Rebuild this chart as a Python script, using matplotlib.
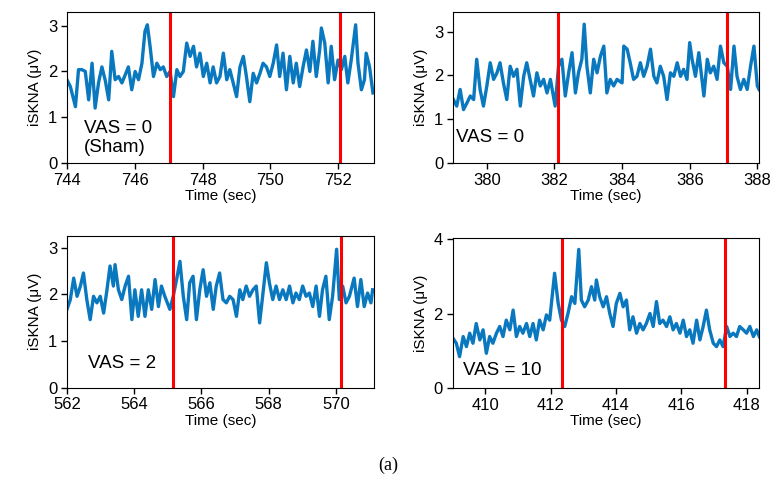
import matplotlib
matplotlib.use("Agg")
import matplotlib.pyplot as plt

plt.rcParams['font.family'] = ['Liberation Sans', 'DejaVu Sans']

# panel (1): VAS = 0 (Sham)
t1 = [744.00, 744.10, 744.25, 744.34, 744.44, 744.54, 744.64, 744.74, 744.83, 744.93,
      745.03, 745.13, 745.23, 745.32, 745.42, 745.52, 745.62, 745.72, 745.81, 745.91,
      746.01, 746.11, 746.21, 746.30, 746.37, 746.45, 746.55, 746.65, 746.75, 746.84,
      746.94, 747.04, 747.14, 747.24, 747.33, 747.43, 747.53, 747.63, 747.73, 747.82,
      747.92, 748.02, 748.12, 748.22, 748.31, 748.41, 748.51, 748.61, 748.71, 748.80,
      748.90, 749.00, 749.10, 749.20, 749.29, 749.39, 749.49, 749.59, 749.69, 749.78,
      749.88, 749.98, 750.08, 750.18, 750.27, 750.37, 750.47, 750.57, 750.67, 750.76,
      750.86, 750.96, 751.06, 751.16, 751.25, 751.35, 751.45, 751.50, 751.60, 751.70,
      751.79, 751.89, 751.99, 752.09, 752.19, 752.28, 752.38, 752.51, 752.58, 752.68,
      752.77, 752.82, 752.92, 753.02]
v1 = [1.82, 1.67, 1.23, 2.04, 2.04, 2.00, 1.38, 2.18, 1.20, 1.75,
      2.10, 1.80, 1.38, 2.44, 1.82, 1.89, 1.75, 1.93, 2.10, 1.60,
      2.00, 1.82, 2.18, 2.88, 3.02, 2.55, 1.89, 2.18, 2.04, 2.10,
      1.89, 2.00, 1.45, 2.04, 1.89, 2.00, 2.62, 2.33, 2.55, 2.10,
      2.40, 1.89, 2.18, 1.75, 2.10, 1.75, 1.89, 2.40, 1.82, 2.04,
      1.75, 1.45, 2.10, 2.33, 1.89, 1.34, 1.96, 1.75, 1.96, 2.18,
      2.10, 1.89, 2.18, 2.58, 1.89, 2.40, 1.60, 2.33, 1.75, 2.18,
      1.67, 2.10, 2.47, 2.00, 2.66, 1.89, 2.47, 2.95, 2.62, 1.75,
      2.55, 1.82, 2.25, 2.04, 2.33, 1.75, 2.25, 3.02, 2.18, 1.60,
      1.82, 2.40, 2.10, 1.53]

# panel (2): VAS = 0
t2 = [379.01, 379.11, 379.21, 379.31, 379.41, 379.51, 379.61, 379.70, 379.80, 379.90,
      380.00, 380.10, 380.20, 380.30, 380.39, 380.49, 380.59, 380.69, 380.79, 380.89,
      380.99, 381.09, 381.18, 381.28, 381.38, 381.48, 381.58, 381.68, 381.78, 381.88,
      382.02, 382.12, 382.22, 382.32, 382.42, 382.52, 382.62, 382.71, 382.81, 382.88,
      382.96, 383.06, 383.16, 383.26, 383.36, 383.46, 383.55, 383.65, 383.75, 383.85,
      384.00, 384.05, 384.15, 384.24, 384.34, 384.44, 384.54, 384.64, 384.74, 384.84,
      384.94, 385.03, 385.13, 385.23, 385.33, 385.43, 385.53, 385.63, 385.73, 385.82,
      385.92, 386.00, 386.07, 386.17, 386.27, 386.42, 386.52, 386.61, 386.71, 386.81,
      386.91, 387.01, 387.11, 387.21, 387.31, 387.40, 387.50, 387.60, 387.70, 387.80,
      387.90, 388.00, 388.05]
v2 = [1.45, 1.30, 1.68, 1.22, 1.37, 1.53, 1.45, 2.37, 1.68, 1.30,
      1.76, 2.29, 1.91, 2.06, 2.29, 1.83, 1.45, 2.21, 1.98, 2.14,
      1.30, 1.98, 2.29, 1.91, 1.53, 2.06, 1.76, 1.91, 1.60, 1.91,
      1.30, 2.21, 2.37, 1.53, 2.06, 2.52, 1.60, 2.06, 2.37, 3.17,
      2.21, 1.60, 2.37, 2.06, 2.44, 2.67, 1.60, 1.91, 1.76, 1.91,
      1.83, 2.67, 2.60, 2.29, 1.91, 1.98, 2.29, 1.98, 2.21, 2.60,
      1.98, 1.83, 2.21, 1.98, 1.45, 2.06, 1.98, 2.29, 1.98, 2.14,
      1.91, 2.75, 2.37, 1.98, 2.52, 1.53, 2.37, 2.06, 2.21, 1.91,
      2.67, 2.29, 2.21, 1.68, 2.67, 1.98, 1.68, 1.91, 1.68, 2.21,
      2.67, 1.76, 1.68]

# panel (3): VAS = 2
t3 = [562.00, 562.10, 562.20, 562.30, 562.40, 562.49, 562.59, 562.69, 562.79, 562.89,
      562.99, 563.09, 563.19, 563.28, 563.38, 563.43, 563.53, 563.63, 563.73, 563.83,
      563.93, 564.02, 564.12, 564.22, 564.32, 564.42, 564.52, 564.62, 564.72, 564.81,
      564.91, 565.06, 565.16, 565.26, 565.36, 565.46, 565.56, 565.65, 565.75, 565.85,
      565.95, 566.05, 566.15, 566.25, 566.35, 566.44, 566.54, 566.64, 566.74, 566.84,
      566.94, 567.04, 567.14, 567.23, 567.33, 567.43, 567.53, 567.63, 567.73, 567.83,
      567.93, 568.02, 568.12, 568.22, 568.32, 568.42, 568.52, 568.62, 568.72, 568.81,
      568.91, 569.01, 569.11, 569.21, 569.31, 569.41, 569.51, 569.60, 569.70, 569.80,
      569.90, 570.02, 570.10, 570.20, 570.30, 570.40, 570.54, 570.64, 570.74, 570.84,
      570.94, 571.04, 571.09]
v3 = [1.68, 1.89, 2.35, 1.96, 2.18, 2.46, 1.89, 1.46, 1.96, 1.82,
      1.96, 1.60, 2.10, 2.61, 2.18, 2.64, 2.10, 1.89, 2.18, 2.39,
      1.46, 2.10, 1.53, 2.10, 1.53, 2.10, 1.68, 2.32, 1.74, 2.18,
      1.96, 1.68, 1.96, 2.32, 2.71, 1.96, 1.46, 2.25, 2.39, 1.46,
      2.10, 2.53, 1.96, 2.25, 1.68, 2.18, 2.46, 1.89, 1.82, 1.96,
      1.89, 1.53, 2.10, 1.89, 2.18, 1.96, 2.10, 2.18, 1.39, 2.03,
      2.68, 2.25, 1.89, 2.18, 1.89, 2.10, 1.89, 2.18, 1.82, 2.03,
      1.89, 2.18, 1.96, 2.03, 1.74, 2.18, 1.53, 2.10, 2.39, 1.46,
      1.96, 2.97, 1.89, 2.18, 1.82, 1.96, 2.35, 1.74, 2.32, 1.74,
      2.03, 1.82, 2.10]

# panel (4): VAS = 10
t4 = [409.01, 409.11, 409.21, 409.32, 409.42, 409.52, 409.62, 409.72, 409.83, 409.93,
      410.03, 410.13, 410.23, 410.34, 410.44, 410.54, 410.64, 410.75, 410.85, 410.95,
      411.05, 411.15, 411.26, 411.36, 411.46, 411.56, 411.66, 411.77, 411.87, 411.97,
      412.12, 412.23, 412.33, 412.43, 412.53, 412.64, 412.74, 412.86, 412.94, 413.04,
      413.15, 413.25, 413.35, 413.40, 413.50, 413.61, 413.71, 413.81, 413.91, 414.01,
      414.12, 414.22, 414.32, 414.42, 414.52, 414.63, 414.73, 414.83, 414.93, 415.04,
      415.14, 415.24, 415.34, 415.44, 415.55, 415.65, 415.75, 415.85, 415.96, 416.06,
      416.16, 416.26, 416.36, 416.47, 416.57, 416.67, 416.77, 416.87, 416.98, 417.08,
      417.18, 417.28, 417.39, 417.49, 417.59, 417.69, 417.79, 417.90, 418.00, 418.10,
      418.21, 418.31, 418.39]
v4 = [1.34, 1.21, 0.85, 1.39, 1.12, 1.48, 1.21, 1.74, 1.30, 1.57,
      0.94, 1.39, 1.21, 1.48, 1.66, 1.39, 1.83, 1.57, 2.10, 1.39,
      1.66, 1.48, 1.74, 1.39, 1.74, 1.30, 1.83, 1.57, 1.97, 1.83,
      3.09, 2.28, 1.83, 1.66, 2.01, 2.46, 2.28, 3.73, 2.37, 2.19,
      2.37, 2.73, 2.37, 2.91, 2.46, 2.19, 2.46, 2.01, 1.66, 2.28,
      2.55, 2.19, 2.37, 1.57, 1.92, 1.48, 1.74, 1.57, 1.74, 2.01,
      1.66, 2.33, 1.74, 1.83, 1.66, 1.92, 1.57, 1.74, 1.48, 1.83,
      1.39, 1.57, 1.21, 1.83, 1.30, 1.66, 2.10, 1.57, 1.21, 1.12,
      1.30, 1.12, 1.66, 1.39, 1.48, 1.39, 1.66, 1.57, 1.48, 1.66,
      1.39, 1.57, 1.39]

panels = [
    dict(t=t1, v=v1, xlim=(744, 753.05), ylim=(0, 3.3), yticks=[0, 1, 2, 3],
         xticks=[744, 746, 748, 750, 752], marks=[747.05, 752.05],
         label="VAS = 0\n(Sham)", lpos=(0.055, 0.165),
         rect=[0.0863, 0.6694, 0.3956, 0.3063]),
    dict(t=t2, v=v2, xlim=(379.0, 388.05), ylim=(0, 3.45), yticks=[0, 1, 2, 3],
         xticks=[380, 382, 384, 386, 388], marks=[382.1, 387.1],
         label="VAS = 0", lpos=(0.01, 0.17),
         rect=[0.5838, 0.6694, 0.3943, 0.3063]),
    dict(t=t3, v=v3, xlim=(562, 571.13), ylim=(0, 3.26), yticks=[0, 1, 2, 3],
         xticks=[562, 564, 566, 568, 570], marks=[565.15, 570.15],
         label="VAS = 2", lpos=(0.07, 0.156),
         rect=[0.0863, 0.2136, 0.3956, 0.3083]),
    dict(t=t4, v=v4, xlim=(409.0, 418.39), ylim=(0, 4.03), yticks=[0, 2, 4],
         xticks=[410, 412, 414, 416, 418], marks=[412.35, 417.35],
         label="VAS = 10", lpos=(0.032, 0.117),
         rect=[0.5834, 0.2124, 0.3951, 0.3043]),
]

fig = plt.figure(figsize=(7.76, 4.93), dpi=100)

for p in panels:
    ax = fig.add_axes(p["rect"])
    ax.plot(p["t"], p["v"], color="#0A78BE", lw=2.4, solid_joinstyle="round")
    for m in p["marks"]:
        ax.axvline(m, color="#FF0000", lw=2.2)
    ax.set_xlim(p["xlim"])
    ax.set_ylim(p["ylim"])
    ax.set_xticks(p["xticks"])
    ax.set_yticks(p["yticks"])
    ax.tick_params(labelsize=12, length=4, width=1, direction="out", pad=3)
    ax.set_xlabel("Time (sec)", fontsize=11, labelpad=1)
    ax.set_ylabel("iSKNA (\u03bcV)", fontsize=11, labelpad=4)
    ax.text(p["lpos"][0], p["lpos"][1], p["label"], transform=ax.transAxes,
            fontsize=13.5, ha="left", va="center", linespacing=1.2)

fig.text(0.5, 0.057, "(a)", ha="center", va="center", fontsize=13,
         family=["Liberation Serif", "DejaVu Serif"])

fig.savefig("out.png", dpi=100)
